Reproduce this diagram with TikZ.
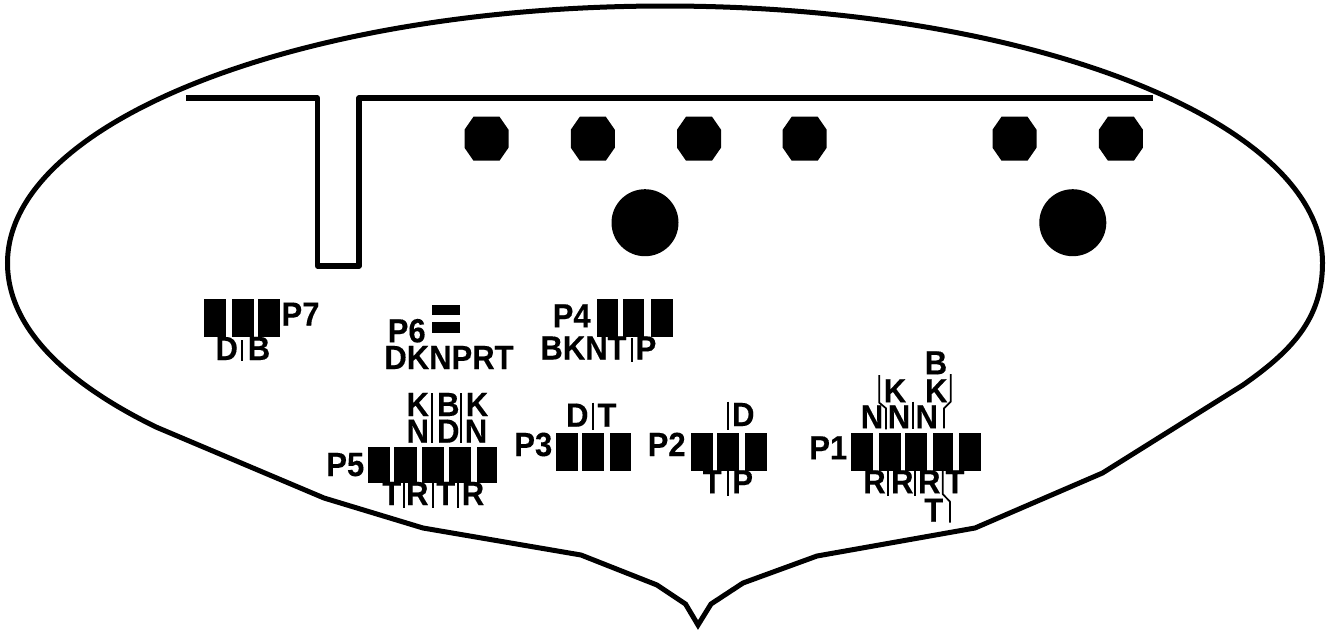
\documentclass[tikz,border=0pt]{standalone}
\usepackage{fontspec}
\setmainfont[BoldFeatures={FakeBold=0.25}]{Liberation Sans}
\tikzset{
  outline/.style={draw=black,line width=5pt,line join=miter,miter limit=12},
  wall/.style={draw=black,line width=5.4pt,line join=round},
  sep/.style={draw=black,line width=1.7pt},
  lab/.style={inner sep=0pt,outer sep=0pt,anchor=base,font=\fontsize{31}{31}\selectfont\bfseries,text=black},
  blk/.style={fill=black,draw=none}
}
\newcommand{\lbl}[4]{\node[lab] (#1) at (#2,#3) {\scalebox{1}[1.08]{#4}};}
\newcommand{\barbox}[4]{\fill[blk] (#1,#3) rectangle (#2,#4);}
\begin{document}
\begin{tikzpicture}[x=1pt,y=-1pt]
\useasboundingbox (0,0) rectangle (1327,630);
\fill[white] (0,0) rectangle (1327,630);
% outline
\draw[outline] (7.5,263) arc[start angle=180,end angle=360,x radius=657.5,y radius=257]
  .. controls (1322.5,320) and (1290,352) .. (1243,385)
  -- (1102.5,473) -- (975,528) -- (817,556) -- (743,583) -- (711,604) -- (698,625)
  -- (685.5,604) -- (657,585) -- (581,555) -- (423,528) -- (324,498) -- (156,427)
  .. controls (70,385) and (7.5,330) .. cycle;
% wall
\draw[wall,line cap=butt] (186,98) -- (317.5,98) -- (317.5,266) -- (359,266) -- (359,98) -- (1153,98);
% small octagons
\foreach \c in {486.5,592.8,699,804.7,1014.5,1120.9}{
  \fill[blk] (\c-13,116.7) -- (\c+13,116.7) -- (\c+22,129.7) -- (\c+22,147.7) -- (\c+13,160.7)
    -- (\c-13,160.7) -- (\c-22,147.7) -- (\c-22,129.7) -- cycle;
}
% large circles
\fill[blk] (645,222.7) circle[radius=33.5pt];
\fill[blk] (1072.8,222.7) circle[radius=33.5pt];
% P7
\barbox{204}{226}{299}{337}\barbox{232.3}{254}{299}{337}\barbox{258}{280}{299}{337}
\lbl{p7}{300.5}{325.7}{P7}
\lbl{p7d}{226.7}{360}{D}\lbl{p7b}{259}{360}{B}
\draw[sep] (242.3,340) -- (242.3,361);
% P6
\barbox{432.3}{460.3}{305}{315}\barbox{432.3}{460.3}{322}{333}
\lbl{p6}{406.7}{342.3}{P6}
\lbl{p6t}{449}{369}{DKNPRT}
% P4
\barbox{596.7}{618.3}{299}{337}\barbox{622.7}{644.3}{299}{337}\barbox{650.7}{672.7}{299}{337}
\lbl{p4}{571.7}{327.3}{P4}
\lbl{p4t}{583.5}{359.5}{BKNT}\lbl{p4p}{646}{359.5}{P}
\draw[sep] (631.7,338) -- (631.7,361.7);
% P5
\barbox{368.3}{390.3}{446.7}{482.7}\barbox{394}{416.7}{446.7}{482.7}\barbox{422.3}{444}{446.7}{482.7}\barbox{449}{470.7}{446.7}{482.7}\barbox{476.7}{496.7}{446.7}{482.7}
\lbl{p5}{345.3}{476}{P5}
\lbl{p5a}{417.7}{416}{K}\lbl{p5b}{448.3}{416}{B}\lbl{p5c}{477}{416}{K}
\lbl{p5d}{417.7}{442.7}{N}\lbl{p5e}{448.3}{442.7}{D}\lbl{p5f}{476}{442.7}{N}
\lbl{p5g}{391.7}{505}{T}\lbl{p5h}{417.3}{505}{R}\lbl{p5i}{445.7}{505}{T}\lbl{p5j}{473}{505}{R}
\draw[sep] (431.7,393.3) -- (431.7,443.3);
\draw[sep] (460.7,393.3) -- (460.7,443.3);
\draw[sep] (404,482.7) -- (404,508.3);
\draw[sep] (433.3,482.7) -- (433.3,508.3);
\draw[sep] (458.3,482.7) -- (458.3,508.3);
% P3
\barbox{556.3}{578.3}{432.7}{470.7}\barbox{582.3}{604.3}{432.7}{470.7}\barbox{610.3}{630.7}{432.7}{470.7}
\lbl{p3}{533.3}{456}{P3}
\lbl{p3d}{577.3}{426.7}{D}\lbl{p3t}{607}{426.7}{T}
\draw[sep] (592.7,402.7) -- (592.7,430);
% P2
\barbox{690.7}{712.7}{432.7}{470.7}\barbox{716.7}{738.7}{432.7}{470.7}\barbox{744.7}{766.7}{432.7}{470.7}
\lbl{p2}{666.7}{456}{P2}
\lbl{p2d}{743.3}{426}{D}
\lbl{p2t}{712.3}{493.3}{T}\lbl{p2p}{742.7}{493.3}{P}
\draw[sep] (727.7,401.7) -- (727.7,430);
\draw[sep] (727.7,470.7) -- (727.7,496);
% P1
\barbox{850.7}{872.7}{432.7}{470.7}\barbox{878.7}{900.7}{432.7}{470.7}\barbox{904.7}{926.7}{432.7}{470.7}\barbox{932.7}{952.7}{432.7}{470.7}\barbox{959}{981}{432.7}{470.7}
\lbl{p1}{828.3}{459.3}{P1}
\lbl{p1a}{936}{374.3}{B}
\lbl{p1b}{895}{402.3}{K}\lbl{p1c}{936.3}{402.3}{K}
\lbl{p1d}{872}{428.3}{N}\lbl{p1e}{899}{428.3}{N}\lbl{p1f}{926.7}{428.3}{N}
\lbl{p1g}{874.5}{493.3}{R}\lbl{p1h}{902.3}{493.3}{R}\lbl{p1i}{929.3}{493.3}{R}\lbl{p1j}{955}{493.3}{T}
\lbl{p1k}{933.7}{521.7}{T}
\draw[sep] (879.3,375) -- (879.3,402.7) -- (886,408.3) -- (886,429.3);
\draw[sep] (913.3,401.7) -- (913.3,429.3);
\draw[sep] (950.7,374) -- (950.7,401.7) -- (944,408.3) -- (944,428.3);
\draw[sep] (888.3,470.7) -- (888.3,496);
\draw[sep] (914.7,470.7) -- (914.7,496);
\draw[sep] (942.7,470.7) -- (942.7,494) -- (950,501.7) -- (950,522.7);
\end{tikzpicture}
\end{document}
